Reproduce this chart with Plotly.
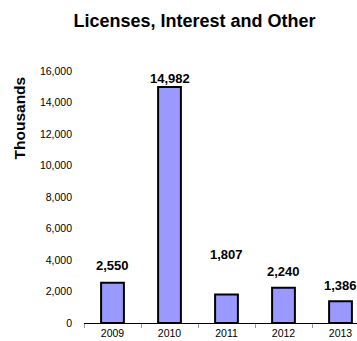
import plotly.graph_objects as go

# Revenue from licenses, interest and other sources, in thousands
years = ["2009", "2010", "2011", "2012", "2013"]
values = [2550, 14982, 1807, 2240, 1386]
label_lift = [17, 9, 40, 16, 16]  # pixel offset of each value label above its bar

y_ticks = [0, 2000, 4000, 6000, 8000, 10000, 12000, 14000, 16000]

FONT = "Liberation Sans, Arial, sans-serif"

fig = go.Figure()
fig.add_trace(go.Bar(
    x=years,
    y=values,
    width=0.4,
    marker=dict(color="#9999FF", line=dict(color="black", width=2)),
    hoverinfo="skip",
))

# value labels; category positions given by index so the year strings
# are not mistaken for numeric coordinates
for i, (v, lift) in enumerate(zip(values, label_lift)):
    fig.add_annotation(
        x=i, y=v, text=f"{v:,}", showarrow=False,
        yshift=lift, yanchor="middle", xanchor="center",
        font=dict(family=FONT, size=13, color="black", weight="bold"),
    )

fig.add_annotation(
    xref="paper", yref="paper", x=-0.235, y=0.815,
    text="Thousands", textangle=-90, showarrow=False,
    xanchor="center", yanchor="middle",
    font=dict(family=FONT, size=15.5, color="black", weight="bold"),
)

fig.update_layout(
    width=357, height=341,
    margin=dict(l=84, r=0, t=71, b=18),
    paper_bgcolor="white", plot_bgcolor="white",
    showlegend=False,
    title=dict(
        text="Licenses, Interest and Other",
        x=194.5 / 357, xanchor="center", y=1 - 21 / 341, yanchor="middle",
        font=dict(family=FONT, size=18, color="black", weight="bold"),
    ),
    xaxis=dict(
        type="category",
        range=[-0.5, 4.5 - 12 / 57],
        showline=True, linecolor="black", linewidth=1,
        ticks="outside", tickson="boundaries", ticklen=4, tickcolor="#999999",
        tickfont=dict(family=FONT, size=10.5, color="black"),
        showgrid=False, automargin=False,
    ),
    yaxis=dict(
        range=[0, 16000],
        tickvals=y_ticks,
        ticktext=[f"{t:,}" for t in y_ticks],
        showgrid=False, zeroline=False, showline=False,
        ticks="", ticklabelstandoff=11,
        tickfont=dict(family=FONT, size=10.5, color="black"),
        automargin=False,
    ),
)

fig.write_html("out.html")
